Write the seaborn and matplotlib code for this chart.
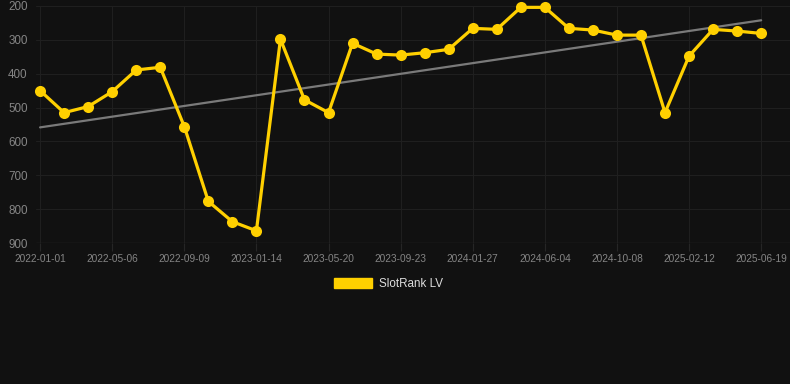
import numpy as np
import pandas as pd
import matplotlib
matplotlib.use("Agg")
import matplotlib.pyplot as plt
import seaborn as sns
from matplotlib.patches import Patch

# === Data ===
tick_labels = ["2022-01-01", "2022-05-06", "2022-09-09", "2023-01-14", "2023-05-20",
               "2023-09-23", "2024-01-27", "2024-06-04", "2024-10-08", "2025-02-12",
               "2025-06-19"]
rank = [450, 515, 497, 453, 389, 381, 556, 777, 837, 864,
        298, 477, 515, 310, 342, 345, 338, 328, 266, 269,
        204, 204, 266, 271, 286, 286, 515, 348, 269, 274,
        281]
series_name = "SlotRank LV"

df = pd.DataFrame({"step": np.arange(len(rank)), "rank": rank})

# === Style ===
bg = "#111111"
yellow = "#FFD000"
text_col = "#858585"
grid_col = "#1f1f1f"

sns.set_theme(style="dark")
plt.rcParams["font.family"] = ["Liberation Sans", "DejaVu Sans"]

fig = plt.figure(figsize=(7.9, 3.84), dpi=100, facecolor=bg)
ax = fig.add_axes([36 / 790, 1 - 243 / 384, (790 - 36) / 790, (243 - 6) / 384])
ax.set_facecolor(bg)

# trend line
sns.regplot(data=df, x="step", y="rank", scatter=False, ci=None, truncate=True,
            line_kws={"color": "#7a7a7a", "lw": 1.6}, ax=ax)

# main series
sns.lineplot(data=df, x="step", y="rank", color=yellow, lw=2.3, marker="o",
             markersize=8, markeredgewidth=0, ax=ax, clip_on=False, zorder=5)

ax.set_xlim(-0.17, 31.2)
ax.set_ylim(900, 200)
ax.set_yticks([200, 300, 400, 500, 600, 700, 800, 900])
ax.set_xticks(np.arange(0, len(rank), 3))
ax.set_xticklabels(tick_labels)
ax.set_xlabel("")
ax.set_ylabel("")

ax.grid(True, color=grid_col, lw=0.8)
for s in ax.spines.values():
    s.set_visible(False)
ax.axhline(900, color="#262626", lw=1)
ax.tick_params(axis="x", colors="#262626", labelcolor=text_col, labelsize=7.3,
               length=6, width=0.8, pad=2, bottom=True)
ax.tick_params(axis="y", labelcolor=text_col, labelsize=8.4, length=0, pad=6, left=False)

handles = [Patch(facecolor=yellow, edgecolor=yellow)]
leg = fig.legend(handles, [series_name], loc="center", bbox_to_anchor=(0.492, 1 - 284 / 384),
                 frameon=False, fontsize=8.4, handlelength=3.3, handleheight=0.9,
                 handletextpad=0.6)
for t in leg.get_texts():
    t.set_color("#dddddd")

fig.savefig("out.png", dpi=100, facecolor=bg)
